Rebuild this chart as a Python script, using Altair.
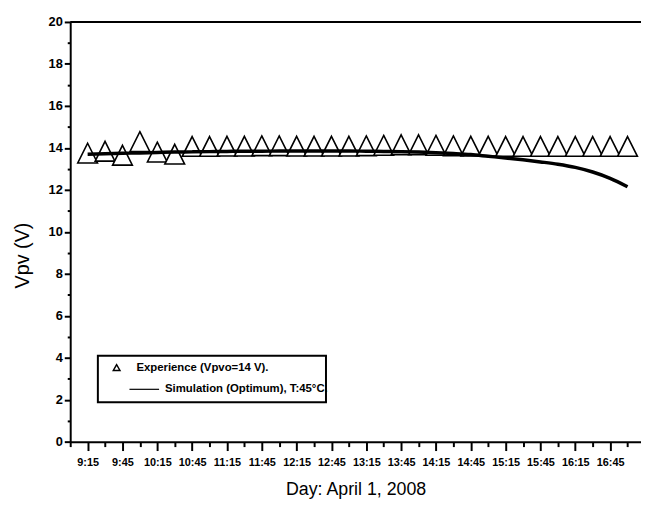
import altair as alt
import pandas as pd

# ---- data ----
exp_times = ["9:15", "9:30", "9:45", "10:00", "10:15", "10:30", "10:45", "11:00",
             "11:15", "11:30", "11:45", "12:00", "12:15", "12:30", "12:45", "13:00",
             "13:15", "13:30", "13:45", "14:00", "14:15", "14:30", "14:45", "15:00",
             "15:15", "15:30", "15:45", "16:00", "16:15", "16:30", "16:45", "17:00"]
exp_vpv = [13.75, 13.84, 13.65, 14.30, 13.80, 13.70, 14.07, 14.07,
           14.08, 14.08, 14.10, 14.10, 14.08, 14.08, 14.08, 14.08,
           14.10, 14.12, 14.15, 14.15, 14.12, 14.10, 14.08, 14.08,
           14.07, 14.07, 14.07, 14.07, 14.07, 14.07, 14.07, 14.07]

sim_times = exp_times
sim_vpv = [13.70, 13.72, 13.74, 13.76, 13.78, 13.80, 13.81, 13.82,
           13.83, 13.84, 13.84, 13.85, 13.85, 13.85, 13.85, 13.85,
           13.84, 13.83, 13.82, 13.80, 13.77, 13.73, 13.68, 13.60,
           13.52, 13.43, 13.33, 13.22, 13.07, 12.85, 12.55, 12.15]

series_names = ["Experience (Vpvo=14 V).", "Simulation (Optimum), T:45\u00b0C."]


def to_min(t):
    h, m = t.split(":")
    return (int(h) - 9) * 60 + int(m)


exp_df = pd.DataFrame({"m": [to_min(t) for t in exp_times], "v": exp_vpv})
sim_df = pd.DataFrame({"m": [to_min(t) for t in sim_times], "v": sim_vpv})

FONT = "Liberation Sans Narrow, Liberation Sans, Arial"

x_ticks = list(range(0, 491, 15))
y_ticks = list(range(0, 21))

x_scale = alt.Scale(domain=[0, 491.6], nice=False, zero=False)
y_scale = alt.Scale(domain=[0, 20], nice=False)

x_axis = alt.Axis(
    values=x_ticks,
    title="Day: April 1, 2008",
    labelExpr="datum.value % 30 == 15 ? (floor((datum.value + 540) / 60) + ':' + (datum.value % 60 < 10 ? '0' : '') + (datum.value % 60)) : ''",
    tickSize={"condition": {"test": "datum.value % 30 == 15", "value": 9}, "value": 5},
    grid=False,
    domainColor="black", domainWidth=2, tickColor="black", tickWidth=2,
    labelFont=FONT, labelFontSize=11, labelFontWeight="bold", labelColor="black",
    labelPadding=6, labelFlush=False, labelOverlap=False,
    titleFont=FONT, titleFontSize=18, titleFontWeight="normal", titleColor="black",
    titlePadding=14,
)

y_axis = alt.Axis(
    values=y_ticks,
    title="Vpv (V)",
    labelExpr="datum.value % 2 == 0 ? datum.value : ''",
    tickSize={"condition": {"test": "datum.value % 2 == 0", "value": 6}, "value": 3},
    grid=False,
    domainColor="black", domainWidth=2, tickColor="black", tickWidth=2,
    labelFont=FONT, labelFontSize=13, labelFontWeight="bold", labelColor="black",
    labelPadding=2, labelOverlap=False, labelFlush=False,
    titleFont=FONT, titleFontSize=20, titleFontWeight="normal", titleColor="black",
    titlePadding=16, titleY=236,
)

X = alt.X("m:Q", scale=x_scale, axis=x_axis)
Y = alt.Y("v:Q", scale=y_scale, axis=y_axis)

points = alt.Chart(exp_df).mark_point(
    shape="M0,-1L1,1L-1,1Z", filled=True, fill="white", stroke="black",
    strokeWidth=1.6, size=400, opacity=1
).encode(x=X, y=Y)

line = alt.Chart(sim_df).mark_line(
    color="black", strokeWidth=3.5, interpolate="monotone"
).encode(x=X, y=Y)

top = alt.Chart(pd.DataFrame({"v": [20]})).mark_rule(
    color="black", strokeWidth=2
).encode(y=Y)

# ---- legend box (decoration) ----
leg_box = alt.Chart(pd.DataFrame({"k": [0]})).mark_rect(
    fill="white", stroke="black", strokeWidth=2
).encode(x=alt.value(28), x2=alt.value(259), y=alt.value(338), y2=alt.value(385))

leg_tri = alt.Chart(pd.DataFrame({"k": [0]})).mark_point(
    shape="triangle-up", filled=True, fill="white", stroke="black",
    strokeWidth=1.5, size=45, opacity=1
).encode(x=alt.value(47), y=alt.value(350))

leg_line = alt.Chart(pd.DataFrame({"k": [0]})).mark_rule(
    color="black", strokeWidth=1.2
).encode(x=alt.value(60), x2=alt.value(90), y=alt.value(372))

leg_text = alt.Chart(pd.DataFrame({"t": series_names, "px": [67, 96], "py": [350, 372]})).mark_text(
    align="left", baseline="middle", font=FONT, fontSize=11.5,
    fontWeight="bold", color="black"
).encode(text="t:N", x=alt.X("px:Q", scale=None), y=alt.Y("py:Q", scale=None))

chart = alt.layer(top, points, line, leg_box, leg_tri, leg_line, leg_text).properties(
    width=578, height=425,
    autosize=alt.AutoSizeParams(type="none"),
    padding={"left": 63, "top": 11, "right": 0, "bottom": 60},
).configure_view(stroke=None)

chart.save("out.html", embed_options={"renderer": "svg", "actions": False})
